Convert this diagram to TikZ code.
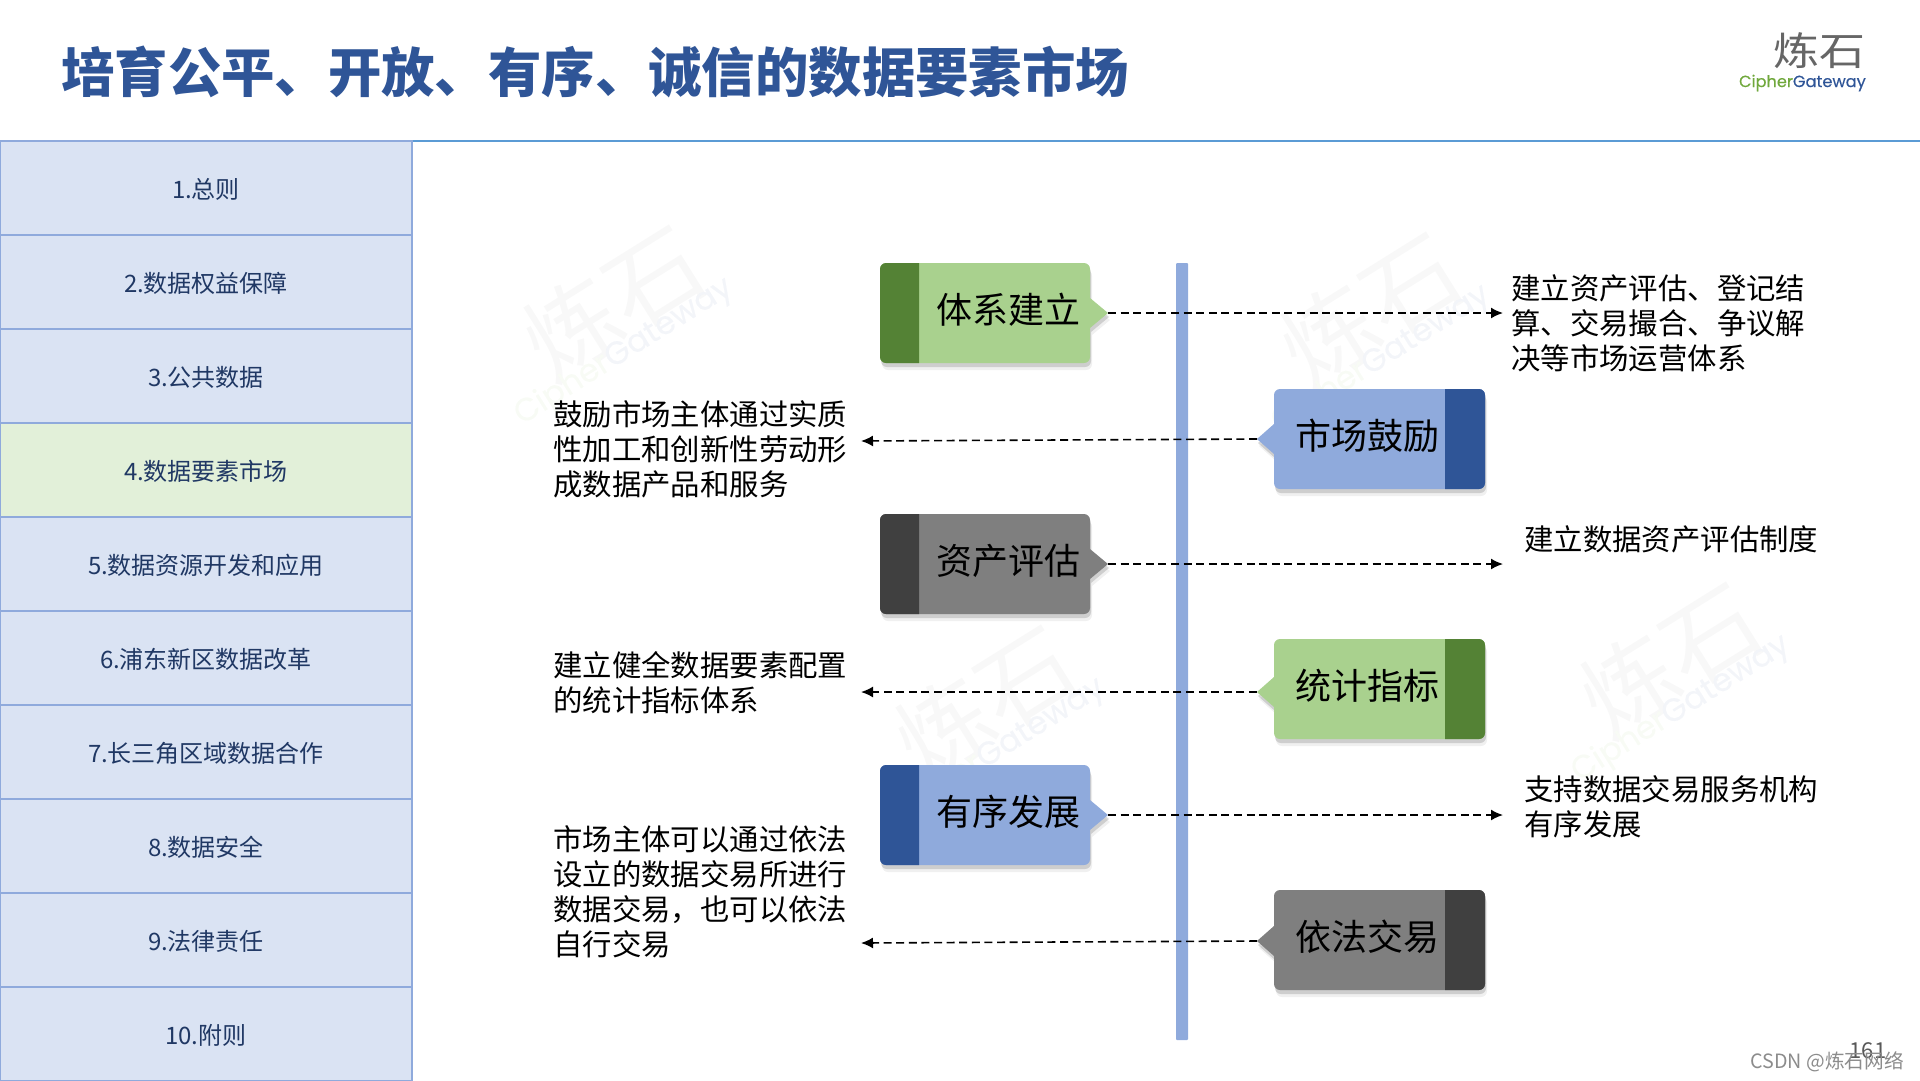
\documentclass[tikz,border=0pt]{standalone}
\usepackage{fontspec}
\setmainfont{Noto Sans CJK SC}
\newfontfamily\latinfont[FakeBold=0.3]{Poppins}
\usetikzlibrary{shadows}
\usetikzlibrary{arrows.meta}
\definecolor{titleblue}{HTML}{2F5597}
\definecolor{ruleblue}{HTML}{5B9BD5}
\definecolor{menublue}{HTML}{DAE3F3}
\definecolor{menugreen}{HTML}{E2F0D9}
\definecolor{menuline}{HTML}{8FAADC}
\definecolor{menutext}{HTML}{203864}
\definecolor{leafgreen}{HTML}{A9D18E}
\definecolor{darkgreen}{HTML}{548235}
\definecolor{leafblue}{HTML}{8FAADC}
\definecolor{darkblue}{HTML}{2F5597}
\definecolor{leafgrey}{HTML}{7F7F7F}
\definecolor{darkgrey}{HTML}{404040}
\definecolor{brandgreen}{HTML}{70A83C}
\tikzset{
menuitem/.style={draw=menuline,line width=2pt,minimum width=412pt,minimum height=94pt,inner sep=0pt,text=menutext,text depth=-1pt,font=\fontsize{24}{28}\selectfont},
tagbody/.style={drop shadow={shadow xshift=2pt,shadow yshift=-7pt,opacity=0.12},drop shadow={shadow xshift=1pt,shadow yshift=-4pt,opacity=0.3}},
taglabel/.style={inner sep=0pt,font=\fontsize{36}{40}\selectfont},
note/.style={inner sep=0pt,anchor=north west,align=left,font=\fontsize{29.4}{35.2}\selectfont},
link/.style={-{Latex[length=12pt,width=11pt]},line width=1.6pt,dash pattern=on 8pt off 4.6pt},
}

\begin{document}
\begin{tikzpicture}[x=1pt,y=-1pt]
\useasboundingbox (0,0) rectangle (1920,1080);

% watermarks
\foreach \i/\x/\y in {1/613/303,2/1370/310,3/1670/660,4/985/703} {
\node (wm\i) at (\x,\y) [rotate=32,inner sep=0pt,text=black,opacity=0.028,font=\fontsize{95}{100}\selectfont] {炼石};
\node (wb\i) at (\x+11,\y+49) [rotate=32,inner sep=0pt,font=\fontsize{32}{36}\selectfont\latinfont] {\textcolor{brandgreen!5}{Cipher}\textcolor{titleblue!6}{Gateway}};
}

% header
\node (title) at (61,72) [anchor=west,inner sep=0pt,text=titleblue,font=\fontsize{53.4}{60}\selectfont\bfseries] {培育公平、开放、有序、诚信的数据要素市场};
\coordinate (ruleL) at (412,141);
\coordinate (ruleR) at (1920,141);
\draw[ruleblue,line width=2pt] (ruleL) -- (ruleR);
\node (logo) at (1866,51) [anchor=east,inner sep=0pt,text=black!60,font=\fontsize{46}{50}\selectfont] {\scalebox{1}[0.85]{炼石}};
\node (brand) at (1866,83) [anchor=east,inner sep=0pt,font=\fontsize{16.2}{20}\selectfont\latinfont] {\textcolor{brandgreen}{Cipher}\textcolor{titleblue}{Gateway}};

% side menu
\foreach \i/\txt/\col in {1/1.总则/menublue,2/2.数据权益保障/menublue,3/3.公共数据/menublue,4/4.数据要素市场/menugreen,5/5.数据资源开发和应用/menublue,6/6.浦东新区数据改革/menublue,7/7.长三角区域数据合作/menublue,8/8.数据安全/menublue,9/9.法律责任/menublue,10/10.附则/menublue} {
\node (item\i) at (206,{94+94*\i}) [menuitem,fill=\col] {\txt};
}

% centre bar
\fill[leafblue,rounded corners=1pt] (1176,263) rectangle (1188,1040);

% tags pointing right
\foreach \n/\y/\light/\dark/\txt in {A/313/leafgreen/darkgreen/体系建立,C/564/leafgrey/darkgrey/资产评估,E/815/leafblue/darkblue/有序发展} {
\fill[\light,tagbody] (1090,\y-15) [sharp corners] -- (1108,\y) -- (1090,\y+15) [rounded corners=6pt] -- (1090,\y+50) -- (880,\y+50) -- (880,\y-50) -- (1090,\y-50) [sharp corners] -- cycle;
\fill[\dark] (919,\y-50) [rounded corners=6pt] -- (880,\y-50) -- (880,\y+50) [sharp corners] -- (919,\y+50) -- cycle;
\node (tag\n) at (1008,\y-3) [taglabel] {\txt};
\coordinate (tip\n) at (1108,\y);
\coordinate (end\n) at (1503,\y);
\draw[link] (tip\n) -- (end\n);
}

% tags pointing left
\foreach \n/\y/\t/\e/\light/\dark/\txt in {B/439/439/441/leafblue/darkblue/市场鼓励,D/689/692/692/leafgreen/darkgreen/统计指标,F/940/941/943/leafgrey/darkgrey/依法交易} {
\fill[\light,tagbody] (1274,\t+15) [sharp corners] -- (1257,\t) -- (1274,\t-15) [rounded corners=6pt] -- (1274,\y-50) -- (1485,\y-50) -- (1485,\y+50) -- (1274,\y+50) [sharp corners] -- cycle;
\fill[\dark] (1445,\y-50) [rounded corners=6pt] -- (1485,\y-50) -- (1485,\y+50) [sharp corners] -- (1445,\y+50) -- cycle;
\node (tag\n) at (1367,\y-3) [taglabel] {\txt};
\coordinate (tip\n) at (1257,\t);
\coordinate (end\n) at (861,\e);
\draw[link] (tip\n) -- (end\n);
}

% notes
\node (noteA) at (1511,274) [note] {建立资产评估、登记结\\算、交易撮合、争议解\\决等市场运营体系};
\node (noteB) at (553,400) [note] {鼓励市场主体通过实质\\性加工和创新性劳动形\\成数据产品和服务};
\node (noteC) at (1524,525) [note] {建立数据资产评估制度};
\node (noteD) at (553,651) [note] {建立健全数据要素配置\\的统计指标体系};
\node (noteE) at (1524,775) [note] {支持数据交易服务机构\\有序发展};
\node (noteF) at (553,825) [note] {市场主体可以通过依法\\设立的数据交易所进行\\数据交易，也可以依法\\自行交易};

% page number and stamp
\node (page) at (1868,1051) [inner sep=0pt,text=black!65,font=\fontsize{22}{24}\selectfont] {161};
\node (stamp) at (1904,1062) [anchor=east,inner sep=0pt,text=black!45,font=\fontsize{19.7}{24}\selectfont] {CSDN @炼石网络};
\end{tikzpicture}
\end{document}
